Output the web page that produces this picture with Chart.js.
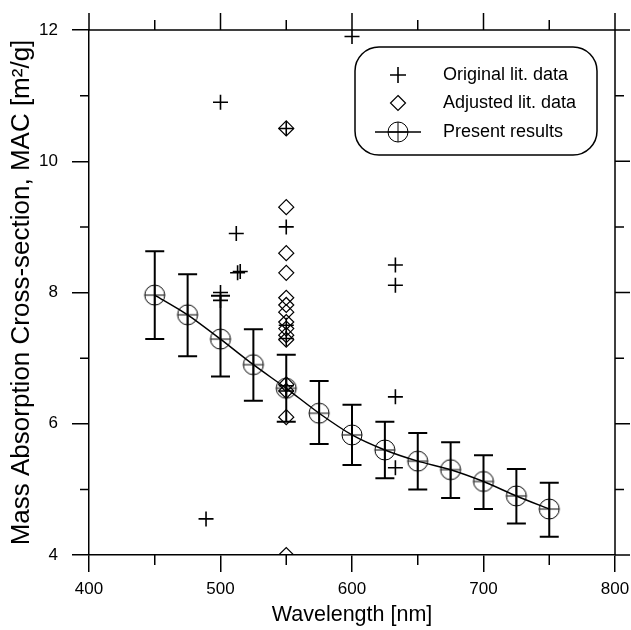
<!DOCTYPE html>
<html>
<head>
<meta charset="utf-8">
<script src="https://cdn.jsdelivr.net/npm/chart.js@4"></script>
<style>
  html, body { margin: 0; padding: 0; background: #fff; }
  #c { display: block; }
</style>
</head>
<body>
<canvas id="c" width="631" height="630"></canvas>
<script>
// original literature values (+)
const origX = [600, 500, 512, 513, 515, 500, 500, 489, 550, 550, 550, 550, 550, 550, 633, 633, 633, 633];
const origY = [11.9, 10.9, 8.9, 8.3, 8.32, 8.0, 7.88, 4.55, 10.5, 9.0, 7.5, 7.3, 6.58, 6.5, 8.42, 8.11, 6.41, 5.33];

// adjusted literature values (diamonds), all at 550 nm
const adjX = [550, 550, 550, 550, 550, 550, 550, 550, 550, 550, 550, 550, 550, 550, 550];
const adjY = [10.5, 9.3, 8.6, 8.3, 7.92, 7.81, 7.7, 7.55, 7.45, 7.35, 7.28, 6.6, 6.5, 6.1, 4.0];

// present results with error bars
const presX  = [450, 475, 500, 525, 550, 575, 600, 625, 650, 675, 700, 725, 750];
const presY  = [7.96, 7.66, 7.29, 6.9, 6.54, 6.16, 5.83, 5.6, 5.43, 5.3, 5.12, 4.9, 4.7];
const presHi = [8.63, 8.28, 7.95, 7.44, 7.05, 6.65, 6.29, 6.03, 5.86, 5.72, 5.52, 5.31, 5.1];
const presLo = [7.29, 7.03, 6.72, 6.35, 6.03, 5.69, 5.37, 5.17, 5.0, 4.87, 4.7, 4.48, 4.28];

const xMajor = [400, 500, 600, 700, 800];
const xMinor = [450, 550, 650, 750];
const yMajor = [4, 6, 8, 10, 12];
const yMinor = [5, 7, 9, 11];

const legendLabels = ['Original lit. data', 'Adjusted lit. data', 'Present results'];

const FONT = "'Liberation Sans', Arial, sans-serif";

// circle with cross marker
function makeCircleMarker() {
  const cv = document.createElement('canvas');
  cv.width = 24; cv.height = 24;
  const g = cv.getContext('2d');
  g.strokeStyle = '#000';
  g.lineWidth = 1;
  g.beginPath();
  g.arc(12, 12, 10, 0, Math.PI * 2);
  g.stroke();
  g.beginPath();
  g.moveTo(2, 12); g.lineTo(22, 12);
  g.moveTo(12, 2); g.lineTo(12, 22);
  g.stroke();
  return cv;
}
const circleMarker = makeCircleMarker();

const toPts = (xs, ys) => xs.map((x, i) => ({ x: x, y: ys[i] }));

const errorBars = {
  id: 'errorBars',
  afterDatasetsDraw(chart) {
    const { ctx, scales: { x, y } } = chart;
    ctx.save();
    ctx.strokeStyle = '#000';
    ctx.lineWidth = 2;
    presX.forEach((v, i) => {
      const px = x.getPixelForValue(v);
      const hi = y.getPixelForValue(presHi[i]);
      const lo = y.getPixelForValue(presLo[i]);
      ctx.beginPath();
      ctx.moveTo(px, hi); ctx.lineTo(px, lo);
      ctx.moveTo(px - 9.5, hi); ctx.lineTo(px + 9.5, hi);
      ctx.moveTo(px - 9.5, lo); ctx.lineTo(px + 9.5, lo);
      ctx.stroke();
    });
    ctx.restore();
  }
};

const frameTicks = {
  id: 'frameTicks',
  afterDraw(chart) {
    const { ctx, chartArea: a, scales: { x, y } } = chart;
    ctx.save();
    ctx.strokeStyle = '#000';
    ctx.lineWidth = 1.5;
    ctx.beginPath();
    // top and right border
    ctx.moveTo(a.left, a.top); ctx.lineTo(a.right, a.top);
    ctx.moveTo(a.right, a.top); ctx.lineTo(a.right, a.bottom);
    // top / right major ticks
    xMajor.forEach(v => { const p = x.getPixelForValue(v); ctx.moveTo(p, a.top); ctx.lineTo(p, a.top - 17); });
    yMajor.forEach(v => { const p = y.getPixelForValue(v); ctx.moveTo(a.right, p); ctx.lineTo(a.right + 15, p); });
    // minor ticks on all sides
    xMinor.forEach(v => {
      const p = x.getPixelForValue(v);
      ctx.moveTo(p, a.bottom); ctx.lineTo(p, a.bottom + 10);
      ctx.moveTo(p, a.top); ctx.lineTo(p, a.top - 10);
    });
    yMinor.forEach(v => {
      const p = y.getPixelForValue(v);
      ctx.moveTo(a.left, p); ctx.lineTo(a.left - 9, p);
      ctx.moveTo(a.right, p); ctx.lineTo(a.right + 9, p);
    });
    ctx.stroke();
    ctx.restore();
  }
};

const boxLegend = {
  id: 'boxLegend',
  afterDraw(chart) {
    const { ctx } = chart;
    const bx = 355, by = 47, bw = 242, bh = 108, r = 24;
    ctx.save();
    ctx.strokeStyle = '#000';
    ctx.lineWidth = 1.5;
    ctx.fillStyle = '#fff';
    ctx.beginPath();
    ctx.roundRect(bx, by, bw, bh, r);
    ctx.fill();
    ctx.stroke();

    const mx = 398, tx = 443;
    const rows = [75, 103, 132];
    // plus
    ctx.lineWidth = 1.6;
    ctx.beginPath();
    ctx.moveTo(mx - 8, rows[0]); ctx.lineTo(mx + 8, rows[0]);
    ctx.moveTo(mx, rows[0] - 8); ctx.lineTo(mx, rows[0] + 8);
    ctx.stroke();
    // diamond
    ctx.lineWidth = 1.2;
    ctx.beginPath();
    ctx.moveTo(mx, rows[1] - 7.5); ctx.lineTo(mx + 7.5, rows[1]);
    ctx.lineTo(mx, rows[1] + 7.5); ctx.lineTo(mx - 7.5, rows[1]);
    ctx.closePath();
    ctx.stroke();
    // line + circle marker
    ctx.lineWidth = 1.5;
    ctx.beginPath();
    ctx.moveTo(mx - 23, rows[2]); ctx.lineTo(mx + 23, rows[2]);
    ctx.stroke();
    ctx.drawImage(circleMarker, mx - 12, rows[2] - 12);

    ctx.fillStyle = '#000';
    ctx.font = '18px ' + FONT;
    ctx.textBaseline = 'middle';
    ctx.textAlign = 'left';
    legendLabels.forEach((t, i) => ctx.fillText(t, tx, rows[i]));
    ctx.restore();
  }
};

new Chart(document.getElementById('c'), {
  type: 'scatter',
  data: {
    datasets: [
      {
        label: legendLabels[0],
        data: toPts(origX, origY),
        pointStyle: 'cross',
        pointRadius: 7.5,
        borderColor: '#000',
        pointBorderWidth: 1.6,
        showLine: false
      },
      {
        label: legendLabels[1],
        data: toPts(adjX, adjY),
        pointStyle: 'rectRot',
        pointRadius: 7.5,
        borderColor: '#000',
        backgroundColor: 'rgba(0,0,0,0)',
        pointBorderWidth: 1.2,
        showLine: false
      },
      {
        label: legendLabels[2],
        data: toPts(presX, presY),
        pointStyle: circleMarker,
        pointRadius: 10,
        borderColor: '#000',
        borderWidth: 1.5,
        showLine: true,
        tension: 0.25
      }
    ]
  },
  options: {
    responsive: false,
    animation: false,
    events: [],
    layout: { padding: { top: 30, right: 16, left: 0, bottom: 0 } },
    plugins: {
      legend: { display: false },
      tooltip: { enabled: false }
    },
    scales: {
      x: {
        type: 'linear',
        min: 400, max: 800,
        afterFit(s) { s.height = 75; s.paddingLeft = 0; s.paddingRight = 0; },
        afterBuildTicks(s) { s.ticks = xMajor.map(v => ({ value: v })); },
        ticks: { color: '#000', font: { family: FONT, size: 17 }, padding: 7, maxRotation: 0 },
        grid: { drawOnChartArea: false, drawTicks: true, tickLength: 17, color: '#000', lineWidth: 1.5 },
        border: { display: true, color: '#000', width: 1.5 },
        title: {
          display: true, text: 'Wavelength [nm]', color: '#000',
          font: { family: FONT, size: 21.5 }, padding: { top: 0, bottom: 2 }
        }
      },
      y: {
        type: 'linear',
        min: 4, max: 12,
        afterFit(s) { s.width = 89; s.paddingTop = 0; s.paddingBottom = 0; },
        afterBuildTicks(s) { s.ticks = yMajor.map(v => ({ value: v })); },
        ticks: { color: '#000', font: { family: FONT, size: 17 }, padding: 14 },
        grid: { drawOnChartArea: false, drawTicks: true, tickLength: 17, color: '#000', lineWidth: 1.5 },
        border: { display: true, color: '#000', width: 1.5 },
        title: {
          display: true, text: 'Mass Absorption Cross-section, MAC [m\u00B2/g]', color: '#000',
          font: { family: FONT, size: 26 }, padding: { top: 6, bottom: 0 }
        }
      }
    }
  },
  plugins: [errorBars, frameTicks, boxLegend]
});
</script>
</body>
</html>
